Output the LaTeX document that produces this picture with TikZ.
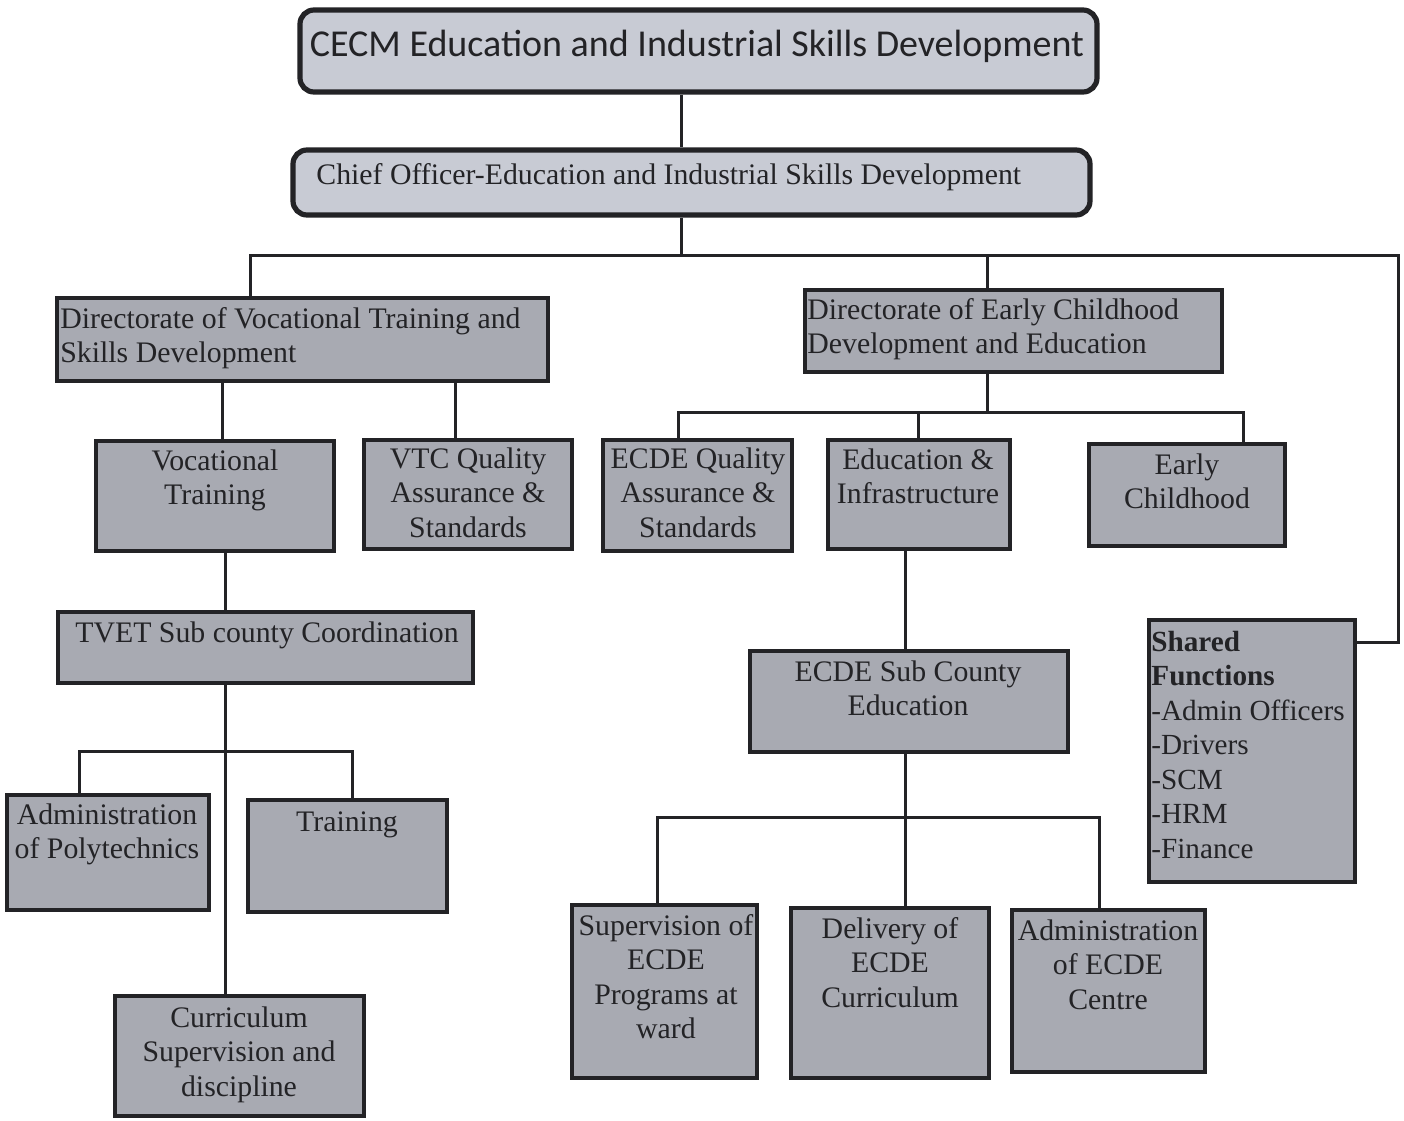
\documentclass[tikz,border=0pt]{standalone}
\usepackage{fontspec}
\setmainfont{Liberation Serif}
\newfontfamily\calfont{Carlito}
\usetikzlibrary{fit}
\definecolor{boxfill}{RGB}{168,170,178}
\definecolor{topfill}{RGB}{200,203,212}
\definecolor{ink}{RGB}{35,35,38}
\begin{document}
\begin{tikzpicture}[x=0.5pt,y=-0.5pt,
  box/.style={draw=ink, line width=1.6pt, fill=boxfill, inner sep=0pt},
  topbox/.style={draw=ink, line width=2.6pt, fill=topfill, inner sep=0pt, rounded corners=7pt},
  txt/.style={inner sep=0pt, anchor=base, align=center, font=\fontsize{14.9}{17.25}\selectfont, text=ink},
  ltxt/.style={txt, align=left, anchor=base west},
  conn/.style={draw=ink, line width=1.5pt}]
\useasboundingbox (0,0) rectangle (1404,1120);
\fill[white] (0,0) rectangle (1404,1120);

% boxes
\node[topbox, fit={(300,10) (1097,92)}] (cecm) {};
\node[topbox, fit={(293,150) (1090,215)}] (chief) {};
\node[box, fit={(57,298) (548,381)}] (vtsd) {};
\node[box, fit={(805,290) (1222,372)}] (ecd) {};
\node[box, fit={(96,441) (334,551)}] (vt) {};
\node[box, fit={(364,440) (572,549)}] (vtc) {};
\node[box, fit={(603,440) (792,551)}] (eqa) {};
\node[box, fit={(828,440) (1010,549)}] (edu) {};
\node[box, fit={(1089,444) (1285,546)}] (ec) {};
\node[box, fit={(58,612) (473,683)}] (tvet) {};
\node[box, fit={(7,795) (209,910)}] (ap) {};
\node[box, fit={(248,800) (447,912)}] (tr) {};
\node[box, fit={(115,996) (364,1116)}] (cur) {};
\node[box, fit={(750,651) (1068,752)}] (esc) {};
\node[box, fit={(572,905) (757,1078)}] (sup) {};
\node[box, fit={(791,908) (989,1078)}] (del) {};
\node[box, fit={(1012,910) (1205,1072)}] (adm) {};
\node[box, fit={(1149,620) (1355,882)}] (sh) {};

% texts (anchor = baseline of the last line)
\node[txt, font=\calfont\fontsize{19}{22}\selectfont] (cecmt) at (697,56) {CECM Education and Industrial Skills Development};
\node[ltxt] (chieft) at (316,184) {Chief Officer-Education and Industrial Skills Development};
\node[ltxt] (vtsdt) at (60,362.5) {Directorate of Vocational Training and\\Skills Development};
\node[ltxt] (ecdt) at (807,353.5) {Directorate of Early Childhood\\Development and Education};
\node[txt] (vtt) at (215,504.5) {Vocational\\Training};
\node[txt] (vtct) at (468,537) {VTC Quality\\Assurance \&\\Standards};
\node[txt] (eqat) at (698,537) {ECDE Quality\\Assurance \&\\Standards};
\node[txt] (edut) at (918,503.5) {Education \&\\Infrastructure};
\node[txt] (ect) at (1187,508.5) {Early\\Childhood};
\node[ltxt] (tvett) at (75,642) {TVET Sub county Coordination};
\node[txt] (apt) at (107,858.5) {Administration\\of Polytechnics};
\node[txt] (trt) at (347,831) {Training};
\node[txt] (curt) at (239,1096) {Curriculum\\Supervision and\\discipline};
\node[txt] (esct) at (908,715.5) {ECDE Sub County\\Education};
\node[txt] (supt) at (666,1038.5) {Supervision of\\ECDE\\Programs at\\ward};
\node[txt] (delt) at (890,1007) {Delivery of\\ECDE\\Curriculum};
\node[txt] (admt) at (1108,1009) {Administration\\of ECDE\\Centre};
\node[ltxt, font=\fontsize{14.6}{17.25}\selectfont] (sht) at (1151,858) {\textbf{Shared}\\\textbf{Functions}\\-Admin Officers\\-Drivers\\-SCM\\-HRM\\-Finance};

% connector points
\coordinate (xa) at (681,0);
\coordinate (b1) at (681,255);
\coordinate (b1L) at (250,255);
\coordinate (b1E) at (987,255);
\coordinate (b1R) at (1398,255);
\coordinate (sj) at (1398,642);
\coordinate (x222) at (222,0);
\coordinate (x455) at (455,0);
\coordinate (b2) at (987,412);
\coordinate (b2L) at (678,412);
\coordinate (b2M) at (918,412);
\coordinate (b2R) at (1243,412);
\coordinate (x225) at (225,0);
\coordinate (b3) at (225,751);
\coordinate (b3L) at (79,751);
\coordinate (b3R) at (352,751);
\coordinate (x905) at (905,0);
\coordinate (b4) at (905,817);
\coordinate (b4L) at (657,817);
\coordinate (b4R) at (1099,817);

% connectors
\draw[conn] (cecm.south -| xa) -- (chief.north -| xa);
\draw[conn] (chief.south -| b1) -- (b1);
\draw[conn] (vtsd.north -| b1L) -- (b1L) -- (b1R) -- (sj) -- (sh.east |- sj);
\draw[conn] (b1E) -- (ecd.north -| b1E);
\draw[conn] (vtsd.south -| x222) -- (vt.north -| x222);
\draw[conn] (vtsd.south -| x455) -- (vtc.north -| x455);
\draw[conn] (ecd.south -| b2) -- (b2);
\draw[conn] (eqa.north -| b2L) -- (b2L) -- (b2R) -- (ec.north -| b2R);
\draw[conn] (b2M) -- (edu.north -| b2M);
\draw[conn] (vt.south -| x225) -- (tvet.north -| x225);
\draw[conn] (tvet.south -| x225) -- (cur.north -| x225);
\draw[conn] (ap.north -| b3L) -- (b3L) -- (b3R) -- (tr.north -| b3R);
\draw[conn] (edu.south -| x905) -- (esc.north -| x905);
\draw[conn] (esc.south -| x905) -- (del.north -| x905);
\draw[conn] (sup.north -| b4L) -- (b4L) -- (b4R) -- (adm.north -| b4R);
\end{tikzpicture}
\end{document}
